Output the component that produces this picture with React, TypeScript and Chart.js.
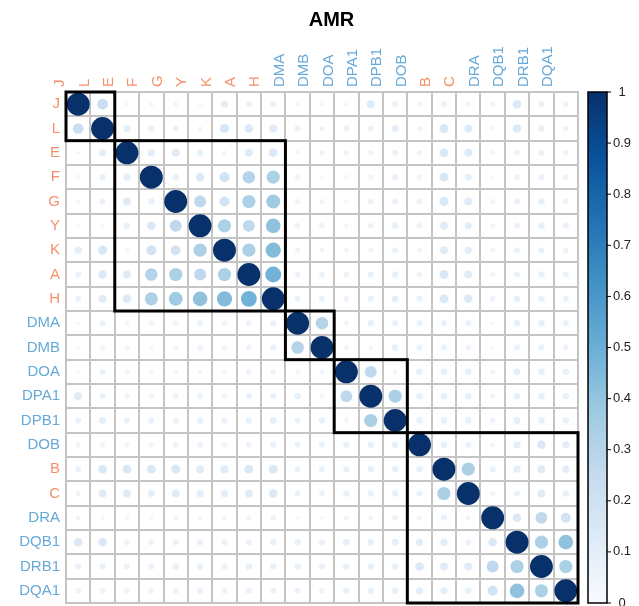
import React, { useEffect, useRef } from "react";
import { Chart, registerables } from "chart.js";

Chart.register(...registerables);

const genes = ["J", "L", "E", "F", "G", "Y", "K", "A", "H", "DMA", "DMB", "DOA", "DPA1", "DPB1", "DOB", "B", "C", "DRA", "DQB1", "DRB1", "DQA1"];
const ORANGE = "#F4916A";
const BLUE = "#67A9D8";
const labelGroup = ["o", "o", "o", "o", "o", "o", "o", "o", "o", "b", "b", "b", "b", "b", "b", "o", "o", "b", "b", "b", "b"];
const titleText = "AMR";

// lower triangle of the correlation matrix (row i, columns 0..i-1)
const lowerTriangle: number[][] = [
  [],
  [0.22],
  [0.03, 0.1],
  [0.04, 0.08, 0.1],
  [0.04, 0.07, 0.12, 0.08],
  [0.03, 0.04, 0.08, 0.14, 0.27],
  [0.1, 0.16, 0.04, 0.19, 0.19, 0.33],
  [0.07, 0.14, 0.12, 0.3, 0.33, 0.27, 0.33],
  [0.07, 0.12, 0.14, 0.33, 0.37, 0.41, 0.44, 0.48],
  [0.03, 0.07, 0.04, 0.05, 0.05, 0.06, 0.05, 0.06, 0.07],
  [0.03, 0.05, 0.05, 0.03, 0.05, 0.06, 0.05, 0.06, 0.07, 0.3],
  [0.03, 0.07, 0.05, 0.04, 0.04, 0.04, 0.04, 0.06, 0.06, 0.04, 0.05],
  [0.12, 0.07, 0.05, 0.05, 0.06, 0.06, 0.05, 0.07, 0.07, 0.08, 0.04, 0.27],
  [0.07, 0.09, 0.07, 0.07, 0.07, 0.08, 0.07, 0.08, 0.09, 0.07, 0.08, 0.04, 0.33],
  [0.05, 0.05, 0.05, 0.05, 0.06, 0.06, 0.05, 0.06, 0.07, 0.07, 0.07, 0.08, 0.08, 0.08],
  [0.07, 0.15, 0.15, 0.15, 0.15, 0.12, 0.12, 0.15, 0.15, 0.07, 0.07, 0.08, 0.08, 0.08, 0.08],
  [0.05, 0.12, 0.12, 0.09, 0.12, 0.1, 0.1, 0.12, 0.14, 0.07, 0.06, 0.08, 0.08, 0.08, 0.07, 0.33],
  [0.05, 0.04, 0.04, 0.03, 0.05, 0.04, 0.04, 0.05, 0.06, 0.03, 0.03, 0.05, 0.05, 0.06, 0.05, 0.07, 0.05],
  [0.14, 0.14, 0.06, 0.06, 0.07, 0.07, 0.07, 0.07, 0.08, 0.08, 0.07, 0.09, 0.08, 0.09, 0.1, 0.1, 0.07, 0.14],
  [0.07, 0.08, 0.07, 0.07, 0.08, 0.08, 0.07, 0.08, 0.08, 0.08, 0.07, 0.08, 0.08, 0.08, 0.14, 0.12, 0.12, 0.27, 0.33],
  [0.06, 0.06, 0.06, 0.06, 0.06, 0.07, 0.06, 0.07, 0.07, 0.07, 0.06, 0.08, 0.08, 0.08, 0.1, 0.1, 0.08, 0.19, 0.41, 0.33],
];

const clusterStart = [0, 2, 9, 11, 14];
const clusterEnd = [1, 8, 10, 13, 20];
const colorbarTicks = [0, 0.1, 0.2, 0.3, 0.4, 0.5, 0.6, 0.7, 0.8, 0.9, 1];
const bluesStops = ["#F7FBFF", "#DEEBF7", "#C6DBEF", "#9ECAE1", "#6BAED6", "#4292C6", "#2171B5", "#08519C", "#08306B"];

function corrValue(i: number, j: number): number {
  if (i === j) return 1;
  return i > j ? lowerTriangle[i][j] : lowerTriangle[j][i];
}

function hexToRgb(h: string) {
  const n = parseInt(h.slice(1), 16);
  return [(n >> 16) & 255, (n >> 8) & 255, n & 255];
}

function bluesColor(v: number): string {
  const t = Math.max(0, Math.min(1, Math.abs(v))) * (bluesStops.length - 1);
  const k = Math.min(bluesStops.length - 2, Math.floor(t));
  const f = t - k;
  const a = hexToRgb(bluesStops[k]);
  const b = hexToRgb(bluesStops[k + 1]);
  const c = a.map((x, idx) => Math.round(x + (b[idx] - x) * f));
  return `rgb(${c[0]},${c[1]},${c[2]})`;
}

const FONT = "'Liberation Sans', Arial, Helvetica, sans-serif";

const extrasPlugin = {
  id: "corrExtras",
  afterDatasetsDraw(chart: any) {
    const { ctx, chartArea } = chart;
    const x = chart.scales.x;
    const y = chart.scales.y;
    const cb = chart.scales.cb;
    const cw = x.getPixelForValue(1) - x.getPixelForValue(0);
    const ch = y.getPixelForValue(1) - y.getPixelForValue(0);
    ctx.save();
    ctx.strokeStyle = "#000";
    ctx.lineWidth = 3;
    clusterStart.forEach((s, k) => {
      const e = clusterEnd[k];
      const x0 = x.getPixelForValue(s) - cw / 2;
      const x1 = x.getPixelForValue(e) + cw / 2;
      const y0 = y.getPixelForValue(s) - ch / 2;
      const y1 = y.getPixelForValue(e) + ch / 2;
      ctx.strokeRect(x0, y0, x1 - x0, y1 - y0);
    });
    // colour bar
    const top = cb.getPixelForValue(1);
    const bottom = cb.getPixelForValue(0);
    const bx = chartArea.right + 10;
    const bw = 19;
    const grad = ctx.createLinearGradient(0, bottom, 0, top);
    bluesStops.forEach((c, i) => grad.addColorStop(i / (bluesStops.length - 1), c));
    ctx.fillStyle = grad;
    ctx.fillRect(bx, top, bw, bottom - top);
    ctx.lineWidth = 1.5;
    ctx.strokeStyle = "#000";
    ctx.strokeRect(bx, top, bw, bottom - top);
    ctx.lineWidth = 1;
    colorbarTicks.forEach((v) => {
      const py = cb.getPixelForValue(v);
      ctx.beginPath();
      ctx.moveTo(bx + bw, py);
      ctx.lineTo(bx + bw + 4, py);
      ctx.stroke();
    });
    // title, centred over the matrix and colour bar
    ctx.fillStyle = "#000";
    ctx.font = `bold 20px ${FONT}`;
    ctx.textAlign = "center";
    ctx.textBaseline = "middle";
    ctx.fillText(titleText, (chartArea.left + bx + bw) / 2 - 5, 20);
    ctx.restore();
  },
};

export default function App() {
  const canvasRef = useRef<HTMLCanvasElement | null>(null);

  useEffect(() => {
    document.body.style.margin = "0";
    const canvas = canvasRef.current;
    if (!canvas) return;
    const points: any[] = [];
    for (let i = 0; i < genes.length; i++) {
      for (let j = 0; j < genes.length; j++) {
        points.push({ x: genes[j], y: genes[i], v: corrValue(i, j) });
      }
    }
    const cellSize = (chart: any) => {
      const sx = chart.scales.x;
      if (!sx) return 24;
      return Math.abs(sx.getPixelForValue(1) - sx.getPixelForValue(0));
    };
    const tickColor = (c: any) => (labelGroup[c.index] === "o" ? ORANGE : BLUE);
    const radius = (c: any) => Math.sqrt(Math.abs(c.raw ? c.raw.v : 0)) * cellSize(c.chart) * 0.47;
    const chart = new Chart(canvas, {
      type: "scatter",
      data: {
        datasets: [
          {
            data: points,
            pointRadius: radius,
            pointHoverRadius: radius,
            pointBackgroundColor: (c: any) => bluesColor(c.raw ? c.raw.v : 0),
            pointBorderWidth: 0,
            pointBorderColor: "rgba(0,0,0,0)",
          } as any,
        ],
      },
      plugins: [extrasPlugin],
      options: {
        animation: false,
        responsive: false,
        events: [],
        layout: { padding: { left: 0, right: 0, top: 38, bottom: 3 } },
        plugins: {
          legend: { display: false },
          tooltip: { enabled: false },
          title: { display: false },
        },
        scales: {
          x: {
            type: "category",
            labels: genes,
            position: "top",
            offset: true,
            grid: { color: "#C4C4C4", lineWidth: 2, offset: true, drawTicks: false },
            border: { display: true, color: "#C4C4C4", width: 2 },
            ticks: {
              autoSkip: false,
              minRotation: 90,
              maxRotation: 90,
              padding: 5,
              color: tickColor,
              font: { family: FONT, size: 15 },
            },
            afterFit: (s: any) => {
              s.height = 54;
              s.paddingLeft = 0;
              s.paddingRight = 0;
            },
          },
          y: {
            type: "category",
            labels: genes,
            position: "left",
            offset: true,
            grid: { color: "#C4C4C4", lineWidth: 2, offset: true, drawTicks: false },
            border: { display: true, color: "#C4C4C4", width: 2 },
            ticks: {
              autoSkip: false,
              padding: 6,
              color: tickColor,
              font: { family: FONT, size: 15 },
            },
            afterFit: (s: any) => {
              s.width = 66;
              s.paddingTop = 0;
              s.paddingBottom = 0;
            },
          },
          cb: {
            type: "linear",
            position: "right",
            min: 0,
            max: 1,
            grid: { display: false },
            border: { display: false },
            ticks: {
              crossAlign: "center",
              padding: 27,
              color: "#222",
              font: { family: FONT, size: 13 },
              callback: (v: any) => (v === 0 ? "0" : v === 1 ? "1" : Number(v).toFixed(1)),
            },
            afterBuildTicks: (s: any) => {
              s.ticks = colorbarTicks.map((v) => ({ value: v }));
            },
            afterFit: (s: any) => {
              s.width = 61;
              s.paddingTop = 0;
              s.paddingBottom = 0;
            },
          },
        },
      } as any,
    });
    return () => chart.destroy();
  }, []);

  return (
    <div style={{ width: 639, height: 606 }}>
      <canvas ref={canvasRef} width={639} height={606} style={{ display: "block" }} />
    </div>
  );
}
